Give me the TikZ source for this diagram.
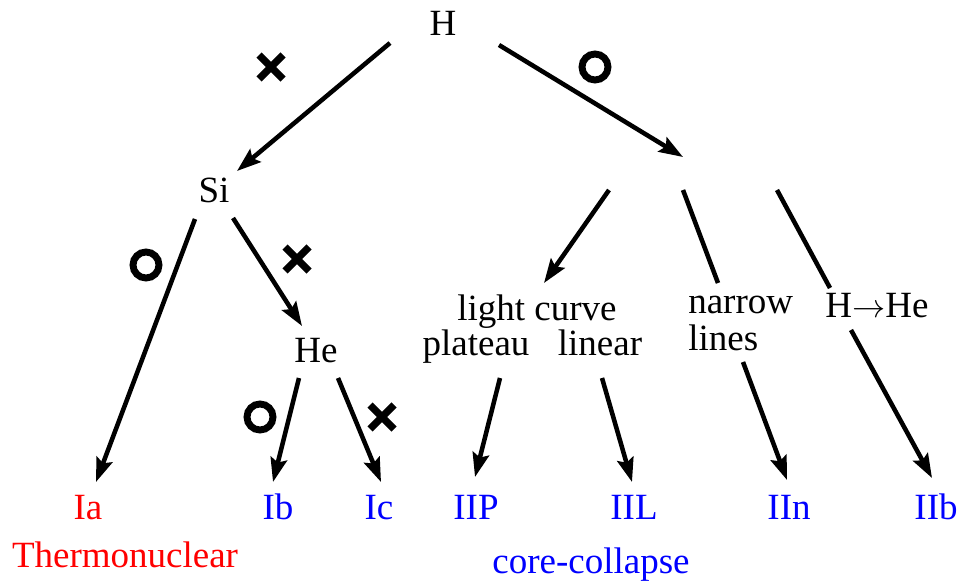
\documentclass[tikz,border=0pt]{standalone}
\usepackage{fontspec}
\setmainfont{Liberation Serif}
\usetikzlibrary{arrows.meta}
\begin{document}
\begin{tikzpicture}[x=0.75pt,y=-0.75pt,
  lbl/.style={anchor=base,inner sep=0pt,font=\fontsize{27.75}{33}\selectfont},
  lblw/.style={lbl,anchor=base west},
  conn/.style={line width=3.4pt},
  arr/.style={conn,-{Stealth[length=18pt,width=12.5pt,inset=3pt]}},
  xm/.pic={\draw[line width=5.5pt] (-12,-12)--(12,12) (-12,12)--(12,-12);},
  om/.pic={\draw[line width=5.2pt] (0,0) circle[radius=9.75pt];}]
\useasboundingbox (0,0) rectangle (960,581);
% text nodes
\node[lbl] (H) at (443,36) {H};
\node[lbl] (Si) at (214,203) {Si};
\node[lbl] (He) at (316,362) {He};
\node[lbl] (lc) at (537,320) {light curve};
\node[lbl] (plat) at (476,355) {plateau};
\node[lbl] (lin) at (600,355) {linear};
\node[lblw] (narrow) at (688,313) {narrow};
\node[lblw] (lines) at (688,350) {lines};
\node[lbl] (HHe) at (877,317) {H$\rightarrow$He};
\node[lbl,red] (Ia) at (88,519) {Ia};
\node[lbl,blue] (Ib) at (278,519) {Ib};
\node[lbl,blue] (Ic) at (379,519) {Ic};
\node[lbl,blue] (IIP) at (476,519) {IIP};
\node[lbl,blue] (IIL) at (634,519) {IIL};
\node[lbl,blue] (IIn) at (789,519) {IIn};
\node[lbl,blue] (IIb) at (936,519) {IIb};
\node[lbl,red] (thermo) at (125,567) {Thermonuclear};
\node[lbl,blue] (cc) at (591,573) {core-collapse};
% connector end points
\coordinate (HL) at (390,43);
\coordinate (HR) at (499,45);
\coordinate (SiT) at (237,171);
\coordinate (IIT) at (683,157);
\coordinate (lcS) at (609,190);
\coordinate (lcT) at (544,283);
\coordinate (nS) at (683,190);
\coordinate (nE) at (718,283);
\coordinate (nS2) at (743,362);
\coordinate (nT) at (787,480);
\coordinate (hS) at (777,190);
\coordinate (hE) at (830,288);
\coordinate (hS2) at (851,330);
\coordinate (hT) at (932,478);
\coordinate (SiL) at (195,219);
\coordinate (IaT) at (96,482);
\coordinate (SiR) at (233,218);
\coordinate (HeT) at (302,326);
\coordinate (HeL) at (299,378);
\coordinate (IbT) at (273,482);
\coordinate (HeR) at (338,378);
\coordinate (IcT) at (381,482);
\coordinate (plS) at (500,378);
\coordinate (IIPT) at (475,477);
\coordinate (liS) at (602,378);
\coordinate (IILT) at (632,482);
% connectors
\draw[arr] (HL) -- (SiT);
\draw[arr] (HR) -- (IIT);
\draw[arr] (lcS) -- (lcT);
\draw[conn] (nS) -- (nE);
\draw[arr] (nS2) -- (nT);
\draw[conn] (hS) -- (hE);
\draw[arr] (hS2) -- (hT);
\draw[arr] (SiL) -- (IaT);
\draw[arr] (SiR) -- (HeT);
\draw[arr] (HeL) -- (IbT);
\draw[arr] (HeR) -- (IcT);
\draw[arr] (plS) -- (IIPT);
\draw[arr] (liS) -- (IILT);
% marks
\pic at (271,67) {xm};
\pic at (595,67) {om};
\pic at (146,265) {om};
\pic at (297,259) {xm};
\pic at (260,417) {om};
\pic at (382,417) {xm};
\end{tikzpicture}
\end{document}
